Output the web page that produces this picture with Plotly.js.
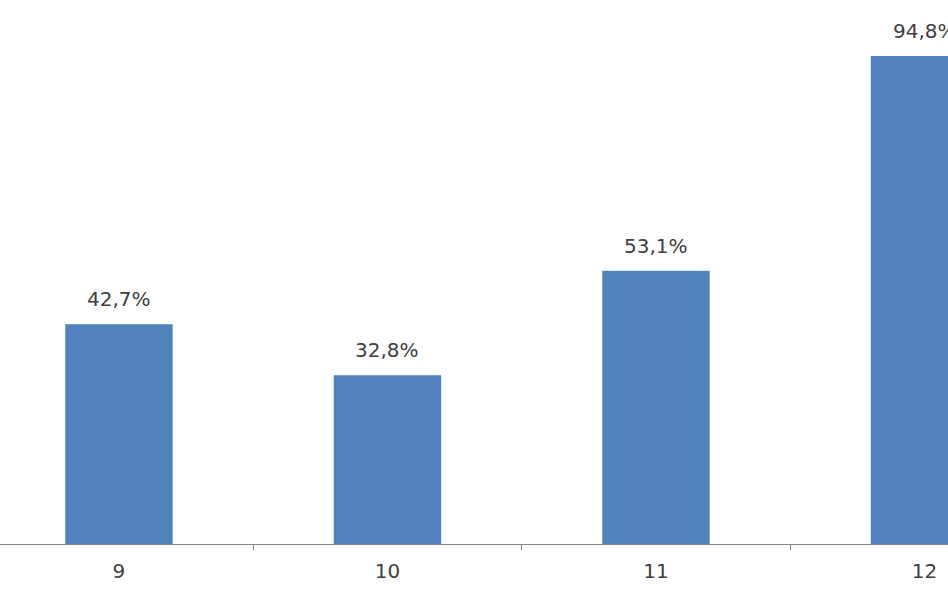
<!DOCTYPE html>
<html>
<head>
<meta charset="utf-8">
<script src="https://cdn.plot.ly/plotly-3.0.1.min.js"></script>
<style>html,body{margin:0;padding:0;background:#fff;}#chart{width:948px;height:593px;}</style>
</head>
<body>
<div id="chart"></div>
<script>
const categories = ["9", "10", "11", "12"];
const values = [42.7, 32.8, 53.1, 94.8];
const labels = ["42,7%", "32,8%", "53,1%", "94,8%"];

const fontFamily = "DejaVu Sans, Arial, sans-serif";

const trace = {
  type: "bar",
  x: categories,
  y: values,
  width: 0.4,
  marker: {color: "#4F81BD"},
  hoverinfo: "skip"
};

// On category axes, annotation x is the category's index
const annotations = categories.map((c, i) => ({
  x: i, y: values[i], xref: "x", yref: "y",
  text: labels[i], showarrow: false,
  xanchor: "center", yanchor: "bottom", yshift: 11,
  font: {family: fontFamily, size: 20, color: "#404040"}
}));

const layout = {
  width: 948, height: 593,
  margin: {l: 0, r: 0, t: 0, b: 49},
  paper_bgcolor: "#ffffff", plot_bgcolor: "#ffffff",
  showlegend: false,
  xaxis: {
    type: "category",
    range: [-0.443, 3.0875],
    showline: true, linecolor: "#868686", linewidth: 1,
    ticks: "outside", tickson: "boundaries", ticklen: 5, tickcolor: "#868686",
    ticklabelstandoff: 9,
    showgrid: false, zeroline: false,
    tickfont: {family: fontFamily, size: 20, color: "#404040"}
  },
  yaxis: {
    range: [0, 105.7],
    visible: false, showgrid: false, zeroline: false
  },
  annotations: annotations
};

Plotly.newPlot("chart", [trace], layout, {staticPlot: true, displayModeBar: false});
</script>
</body>
</html>
